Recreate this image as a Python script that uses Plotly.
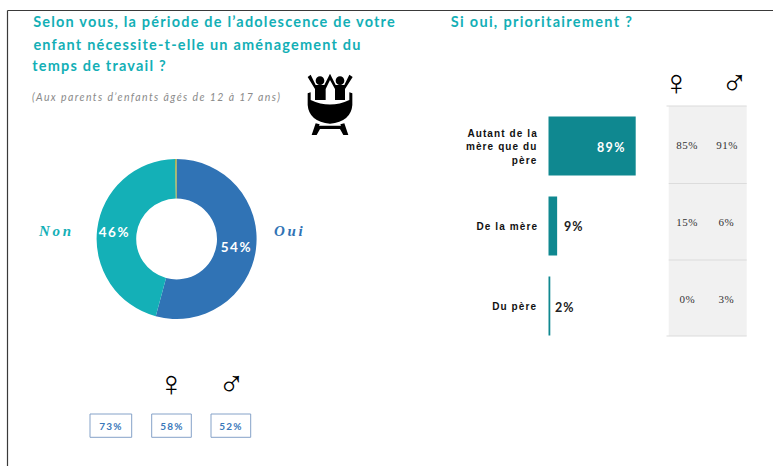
import json
import plotly.graph_objects as go

W, H = 773, 466
TEAL, BLUE, DARKTEAL = "#13afb6", "#3073b5", "#0f8890"

donut_labels = ["Oui", "Non", "Autre"]
donut_values = [54.2, 45.5, 0.3]
donut_colors = [BLUE, "#14b0b7", "#a3a836"]
bar_categories = ["Autant de la mère que du père", "De la mère", "Du père"]
bar_values = [89, 9, 2]
female_values = ["85%", "15%", "0%"]
male_values = ["91%", "6%", "3%"]
base_labels = ["73%", "58%", "52%"]


def px(x):
    return x / W


def py(y):
    return 1 - y / H


fig = go.Figure()
fig.add_trace(go.Pie(
    labels=donut_labels, values=donut_values, hole=0.505, sort=False,
    direction="clockwise", rotation=0, textinfo="none", showlegend=False,
    marker=dict(colors=donut_colors, line=dict(width=0)),
    domain=dict(x=[px(176.6 - 80), px(176.6 + 80)], y=[py(239 + 80), py(239 - 80)]),
))
fig.add_trace(go.Bar(
    x=bar_values, y=bar_categories, orientation="h", width=0.7375,
    marker=dict(color=DARKTEAL, line=dict(width=0)), showlegend=False,
))

shapes = []


def rect(x0, y0, x1, y1, **kw):
    shapes.append(dict(type="rect", xref="paper", yref="paper", x0=px(x0), x1=px(x1),
                       y0=py(y0), y1=py(y1), layer="below", **kw))


def line(x0, y0, x1, y1, color, width):
    shapes.append(dict(type="line", xref="paper", yref="paper", x0=px(x0), x1=px(x1),
                       y0=py(y0), y1=py(y1), line=dict(color=color, width=width)))


# frame
line(7.5, 10.5, 773, 10.5, "#3a3a3a", 1.2)
line(7.5, 10.5, 7.5, 466, "#3a3a3a", 1.2)

# table panel
rect(668.7, 106, 746.7, 336, fillcolor="#f1f1f1", line=dict(width=0))
for yy in (106, 183.5, 260, 336):
    line(666.5 if yy in (106, 336) else 668.7, yy, 746.7, yy, "#dcdcdc", 1.2)

# boxes
for x0, x1 in ((90, 131.7), (151.7, 191.3), (211, 250.7)):
    rect(x0, 414, x1, 437.3, fillcolor="rgba(0,0,0,0)", line=dict(color="#85a2c8", width=1))


# icon
def icon_path(points):
    out = ""
    for cmd, *c in points:
        out += cmd
        vals = []
        for i in range(0, len(c), 2):
            vals.append(f"{px(295 + c[i] / 3):.5f},{py(65 + c[i + 1] / 3):.5f}")
        out += " ".join(vals) + " "
    return out + "Z"


icon_parts = [
    [("M", 38, 36), ("L", 47, 29), ("L", 62, 60), ("L", 88, 60), ("L", 105, 26), ("L", 122, 60),
     ("L", 148, 60), ("L", 163, 29), ("L", 173, 36), ("L", 150, 72), ("L", 150, 105), ("L", 120, 105),
     ("L", 120, 72), ("L", 105, 45), ("L", 92, 72), ("L", 92, 105), ("L", 60, 105), ("L", 60, 72)],
    [("M", 38, 85), ("L", 47, 82), ("L", 47, 105), ("Q", 105, 132, 163, 105), ("L", 163, 82), ("L", 172, 85),
     ("L", 172, 120), ("Q", 168, 170, 105, 176), ("Q", 42, 170, 38, 120)],
    [("M", 62, 175), ("L", 50, 210), ("L", 65, 210), ("L", 75, 192), ("L", 135, 192), ("L", 145, 210),
     ("L", 160, 210), ("L", 148, 175), ("L", 136, 178), ("L", 138, 182), ("L", 72, 182), ("L", 74, 178)],
]
for p in icon_parts:
    shapes.append(dict(type="path", xref="paper", yref="paper", path=icon_path(p),
                       fillcolor="black", line=dict(width=0)))
for cx in (75, 135):
    shapes.append(dict(type="circle", xref="paper", yref="paper",
                       x0=px(295 + (cx - 13) / 3), x1=px(295 + (cx + 13) / 3),
                       y0=py(65 + 60 / 3), y1=py(65 + 34 / 3), fillcolor="black", line=dict(width=0)))

annotations = []
spacings = []


def text(s, x, y, size, color, family="Lato", bold=False, italic=False, spacing=0):
    t = f"<b>{s}</b>" if bold else s
    if italic:
        t = f"<i>{t}</i>"
    annotations.append(dict(text=t, x=px(x), y=py(y), xref="paper", yref="paper", xanchor="center",
                            yanchor="middle", showarrow=False,
                            font=dict(size=size, color=color, family=family)))
    spacings.append(spacing)


text("Selon vous, la période de l’adolescence de votre", 214, 22, 14.5, TEAL, bold=True, spacing=1.2)
text("enfant nécessite-t-elle un aménagement du", 197, 45, 14.5, TEAL, bold=True, spacing=1.2)
text("temps de travail ?", 99.5, 65, 14.5, TEAL, bold=True, spacing=1.2)
text("(Aux parents d’enfants âgés de 12 à 17 ans)", 157, 97, 10.5, "#8a8a8a", italic=True, spacing=1.4)
text("Si oui, prioritairement ?", 542, 21, 14.5, TEAL, bold=True, spacing=1.3)

text("Non", 55.5, 231, 15, "#14b0b7", family="Liberation Serif", bold=True, italic=True, spacing=2.6)
text("Oui", 290, 231, 15, BLUE, family="Liberation Serif", bold=True, italic=True, spacing=2.6)
text("46%", 114, 232, 13.5, "white", bold=True, spacing=1.5)
text("54%", 236, 247, 13.5, "white", bold=True, spacing=1.5)

text("♀", 171.5, 383, 36, "black", family="Liberation Sans")
text("♂", 231, 383, 36, "black", family="Liberation Sans")
text("♀", 676, 82, 36, "black", family="Liberation Sans")
text("♂", 734, 83, 36, "black", family="Liberation Sans")

for s, x in zip(base_labels, (111, 171.5, 231)):
    text(s, x, 426, 10, "#3a78ba", bold=True, spacing=1.2)

label_lines = [
    ("Autant de la", 502.5, 133), ("mère que du", 501.5, 146.5), ("père", 525, 160),
    ("De la mère", 507, 226.5), ("Du père", 515, 306.5),
]
for s, x, y in label_lines:
    text(s, x, y, 10, "#111111", family="Liberation Sans", bold=True, spacing=1.1)

text(f"{bar_values[0]}%", 611.5, 147, 12.5, "white", bold=True, spacing=1.4)
text(f"{bar_values[1]}%", 574, 227, 12.5, "#222222", bold=True, spacing=1.1)
text(f"{bar_values[2]}%", 565, 307, 12.5, "#222222", bold=True, spacing=1.1)

for s, y in zip(female_values, (145, 222.5, 299)):
    text(s, 687, y, 11, "#333333", family="Liberation Serif", spacing=0.5)
for s, y in zip(male_values, (145, 222.5, 299)):
    text(s, 726.5, y, 11, "#333333", family="Liberation Serif", spacing=0.5)

fig.update_layout(
    width=W, height=H, margin=dict(l=0, r=0, t=0, b=0), paper_bgcolor="white", plot_bgcolor="rgba(0,0,0,0)",
    xaxis=dict(domain=[px(548.3), px(548.3 + 98.2)], range=[0, 100], visible=False),
    yaxis=dict(domain=[py(346), py(106)], range=[2.5, -0.5], type="category", visible=False,
               categoryorder="array", categoryarray=bar_categories),
    shapes=shapes, annotations=annotations,
)

post = """
document.body.style.margin='0';
document.documentElement.style.overflow='hidden';
var sp=%s;
document.querySelectorAll('.annotation-text').forEach(function(t,i){t.style.letterSpacing=sp[i]+'px';});
""" % json.dumps(spacings)
fig.write_html("out.html", post_script=post, config=dict(displayModeBar=False))
